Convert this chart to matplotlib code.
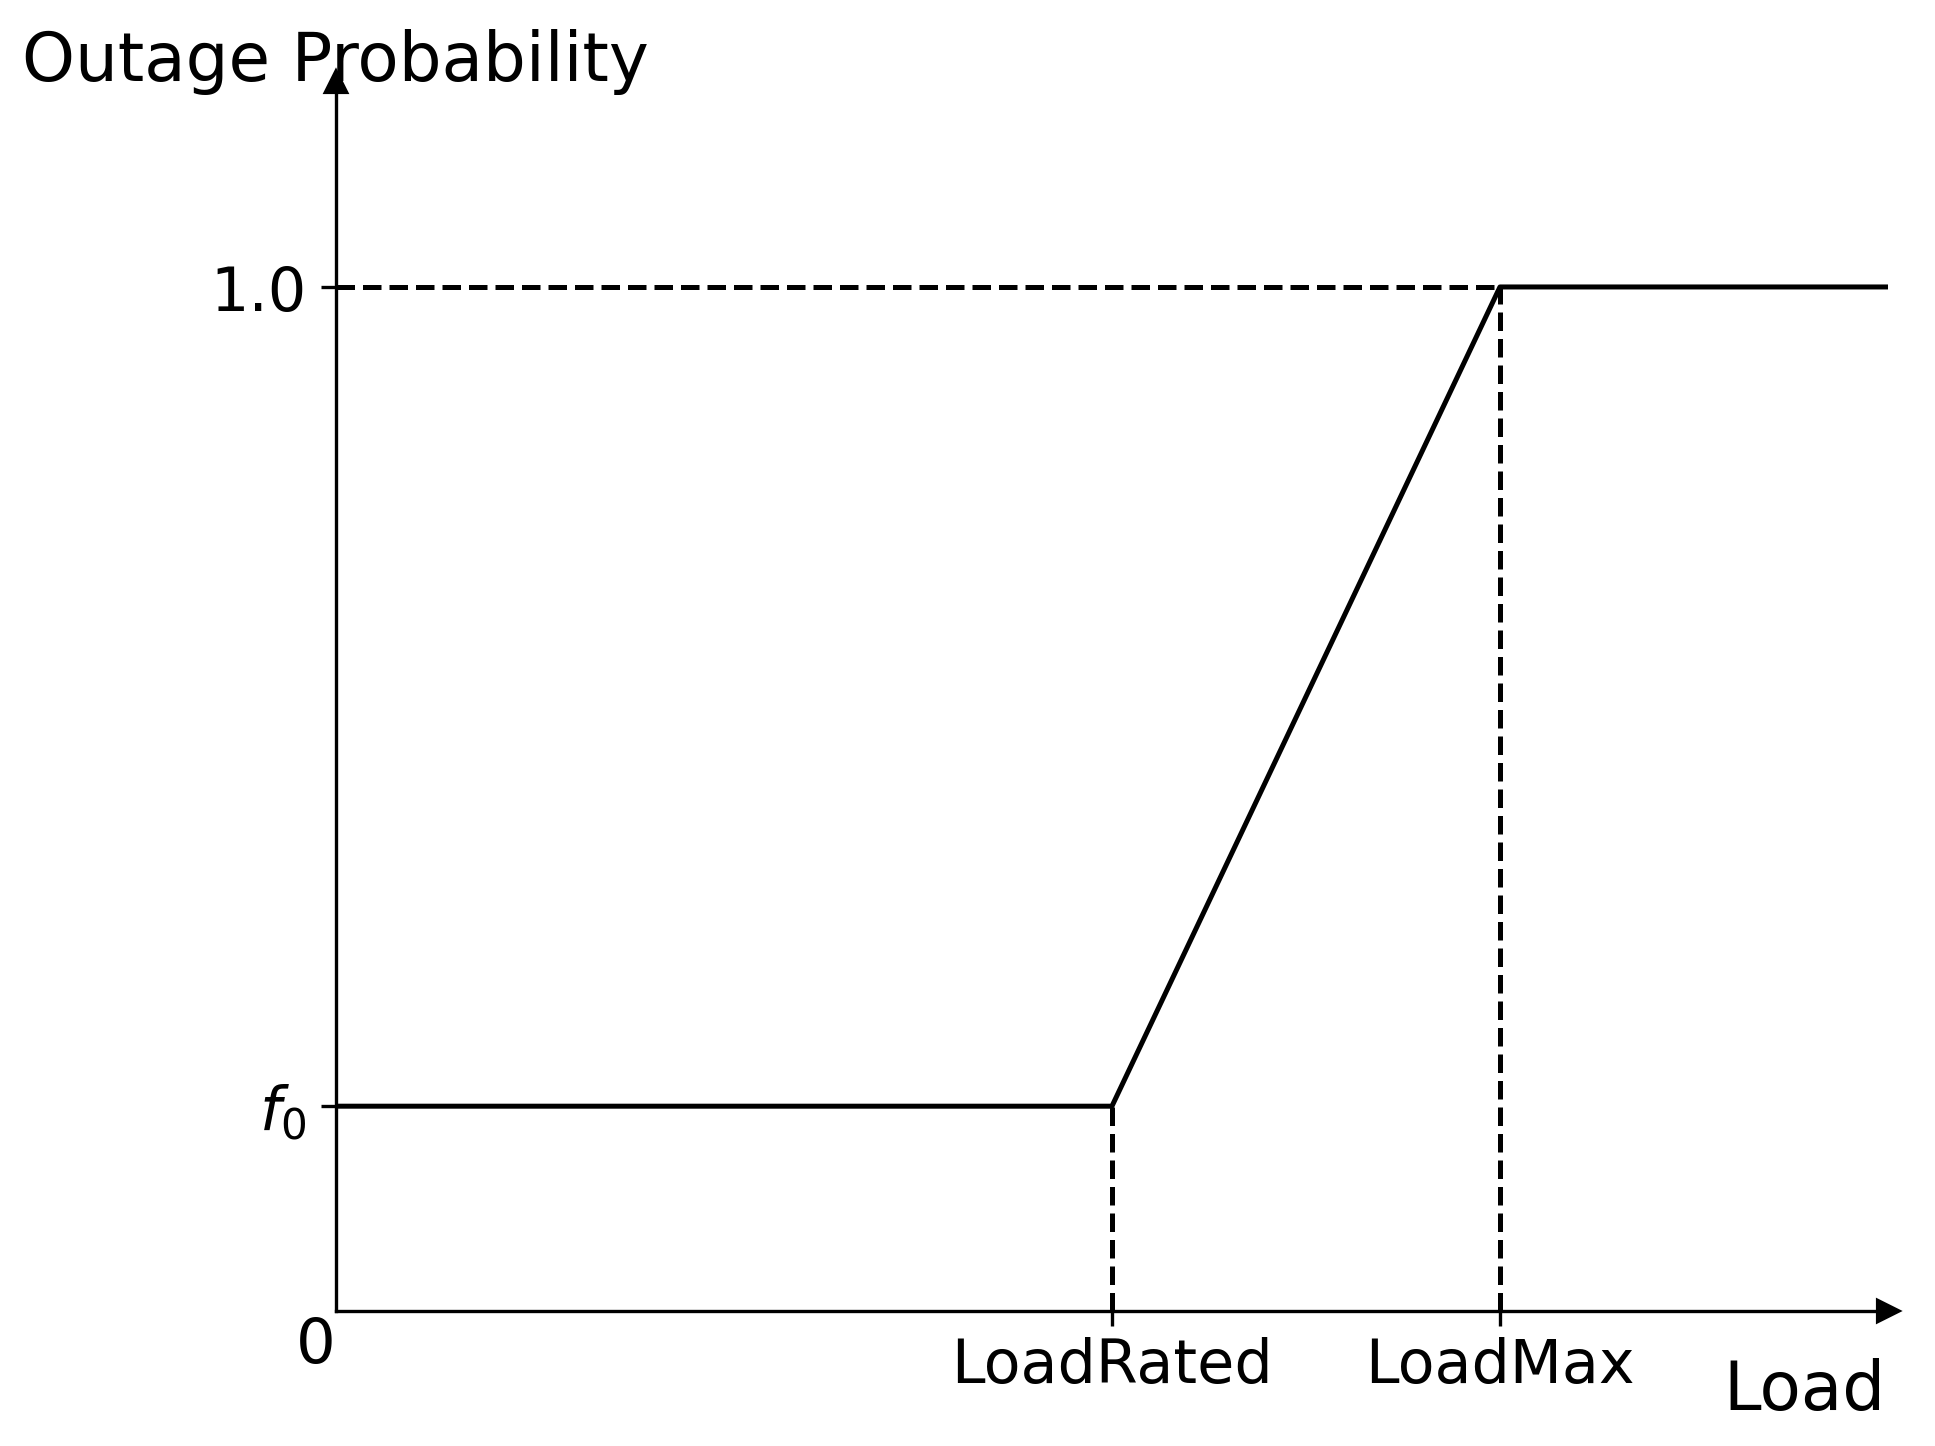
import numpy as np
from matplotlib import pyplot as plt

# outage probability vs load (piecewise linear)
load = [0, 0.5, 0.75, 1.0]
prob = [0.2, 0.2, 1.0, 1.0]
load_rated = 0.5
load_max = 0.75
f0 = 0.2

tick_pos_x = [load_rated, load_max]
tick_lab_x = ['LoadRated', 'LoadMax']
tick_pos_y = [f0, 1.0]
tick_lab_y = [r'$f_0$', '1.0']

fig = plt.figure(figsize=(6.45, 4.823), dpi=300)
ax = fig.add_axes([0.1736, 0.0933, 0.9757 - 0.1736, 0.9426 - 0.0933])

ax.plot(load, prob, color='black', lw=1.2)
# dashed guides
ax.plot([0, load_max], [1.0, 1.0], 'k--', lw=1.2)
ax.plot([load_max, load_max], [0, 1.0], 'k--', lw=1.2)
ax.plot([load_rated, load_rated], [0, f0], 'k--', lw=1.2)

ax.set_xlim(0, 1)
ax.set_ylim(0, 1.2)

ax.spines['top'].set_visible(False)
ax.spines['right'].set_visible(False)
ax.plot(1, 0, '>k', ms=5, transform=ax.get_yaxis_transform(), clip_on=False)
ax.plot(0, 1, '^k', ms=5, transform=ax.get_xaxis_transform(), clip_on=False)

ax.set_xticks(tick_pos_x)
ax.set_xticklabels(tick_lab_x, fontsize=14.5)
ax.set_yticks(tick_pos_y)
ax.set_yticklabels(tick_lab_y, fontsize=14.5)
ax.tick_params(axis='x', pad=2.5)

ax.text(0.0, -0.003, '0', transform=ax.transAxes, ha='right', va='top', fontsize=15)

ax.set_ylabel('Outage Probability', rotation=0, fontsize=16.2, ha='center', va='center')
ax.yaxis.set_label_coords(0.0, 1.017)
ax.set_xlabel('Load', fontsize=16.2, ha='center', va='center')
ax.xaxis.set_label_coords(0.946, -0.064)

fig.savefig('out.png', dpi=300)
